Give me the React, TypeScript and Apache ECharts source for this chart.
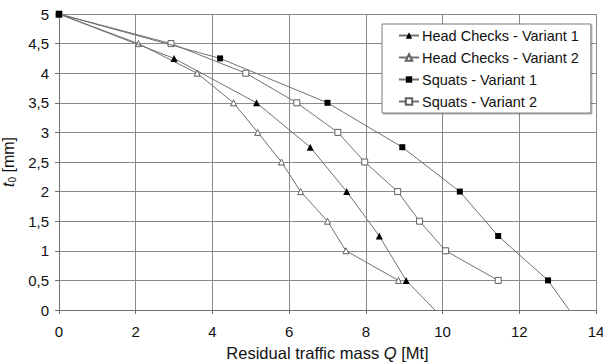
import React, { useEffect, useRef } from "react";
import * as echarts from "echarts";

const hcV1X = [0, 3.0, 5.15, 6.55, 7.5, 8.35, 9.05, 9.8];
const hcV1Y = [5, 4.25, 3.5, 2.75, 2.0, 1.25, 0.5, 0];
const hcV2X = [0, 2.07, 3.6, 4.55, 5.18, 5.8, 6.3, 7.0, 7.48, 8.85];
const hcV2Y = [5, 4.5, 4.0, 3.5, 3.0, 2.5, 2.0, 1.5, 1.0, 0.5];
const sqV1X = [0, 4.2, 7.0, 8.95, 10.45, 11.45, 12.75, 13.3];
const sqV1Y = [5, 4.25, 3.5, 2.75, 2.0, 1.25, 0.5, 0];
const sqV2X = [0, 2.92, 4.87, 6.2, 7.27, 7.97, 8.83, 9.4, 10.08, 11.45];
const sqV2Y = [5, 4.5, 4.0, 3.5, 3.0, 2.5, 2.0, 1.5, 1.0, 0.5];
// the last point of each "Variant 1" series is the line's end without a marker
const names = ["Head Checks - Variant 1", "Head Checks - Variant 2", "Squats - Variant 1", "Squats - Variant 2"];

function pts(xs: number[], ys: number[], lastBare: boolean) {
  return xs.map((x, i) =>
    lastBare && i === xs.length - 1 ? { value: [x, ys[i]], symbol: "none" } : { value: [x, ys[i]] }
  );
}

export default function App() {
  const ref = useRef<HTMLDivElement>(null);
  useEffect(() => {
    const chart = echarts.init(ref.current!, null, { renderer: "svg" });
    const font = "'Liberation Sans', Arial, sans-serif";
    const txt = "#111";
    const lineStyle = { color: "#707070", width: 1 };
    const mk = (name: string, data: any, symbol: string, filled: boolean, size: number) => ({
      name,
      type: "line",
      data,
      symbol,
      symbolSize: size,
      showSymbol: true,
      lineStyle,
      itemStyle: filled
        ? { color: "#000", borderColor: "#000", borderWidth: 0 }
        : { color: "#fff", borderColor: "#606060", borderWidth: 1 },
      z: filled ? 3 : 2,
    });
    chart.setOption({
      animation: false,
      textStyle: { fontFamily: font },
      grid: { left: 59, right: 7, top: 14, bottom: 54, containLabel: false, outerBoundsMode: "none" },
      legend: {
        left: 382,
        top: 24,
        orient: "vertical",
        backgroundColor: "#fff",
        borderColor: "#7a7a7a",
        borderWidth: 1,
        padding: [4, 12, 4, 16],
        itemWidth: 20,
        itemHeight: 8,
        itemGap: 7,
        textStyle: { fontFamily: font, fontSize: 14.5, color: txt, padding: [0, 0, 0, -2] },
        shadowColor: "rgba(0,0,0,0.35)",
        shadowOffsetX: 1,
        shadowOffsetY: 1,
        shadowBlur: 1,
        data: names,
      },
      xAxis: {
        type: "value",
        min: 0,
        max: 14,
        interval: 2,
        name: "Residual traffic mass {i|Q} [Mt]",
        nameLocation: "middle",
        nameGap: 34,
        nameTextStyle: {
          fontFamily: font,
          fontSize: 16.5,
          color: txt,
          rich: { i: { fontStyle: "italic", fontFamily: font, fontSize: 16.5, color: txt } },
        },
        axisLine: { show: true, lineStyle: { color: "#707070" } },
        axisTick: { show: true, length: 4, lineStyle: { color: "#707070" } },
        axisLabel: { fontFamily: font, fontSize: 15, color: txt, margin: 14 },
        splitLine: { show: true, lineStyle: { color: "#8a8a8a", width: 1 } },
      },
      yAxis: {
        type: "value",
        min: 0,
        max: 5,
        interval: 0.5,
        name: "{i|t}{s|0} [mm]",
        nameLocation: "middle",
        nameGap: 42,
        nameRotate: 90,
        nameTextStyle: {
          fontFamily: font,
          fontSize: 16,
          color: txt,
          rich: {
            i: { fontStyle: "italic", fontFamily: font, fontSize: 16, color: txt },
            s: { fontFamily: font, fontSize: 10, color: txt, padding: [7, 0, 0, 0] },
          },
        },
        axisLine: { show: true, lineStyle: { color: "#707070" } },
        axisTick: { show: true, length: 4, lineStyle: { color: "#707070" } },
        axisLabel: {
          fontFamily: font,
          fontSize: 15,
          color: txt,
          margin: 10,
          formatter: (v: number) => String(v).replace(".", ","),
        },
        splitLine: { show: true, lineStyle: { color: "#8a8a8a", width: 1 } },
      },
      series: [
        mk(names[0], pts(hcV1X, hcV1Y, true), "triangle", true, 7),
        mk(names[1], pts(hcV2X, hcV2Y, false), "triangle", false, 6),
        mk(names[2], pts(sqV1X, sqV1Y, true), "rect", true, 6),
        mk(names[3], pts(sqV2X, sqV2Y, false), "rect", false, 6),
      ],
    });
    return () => chart.dispose();
  }, []);
  return <div ref={ref} style={{ width: 603, height: 364, position: "absolute", left: 0, top: 0, background: "#fff" }} />;
}
